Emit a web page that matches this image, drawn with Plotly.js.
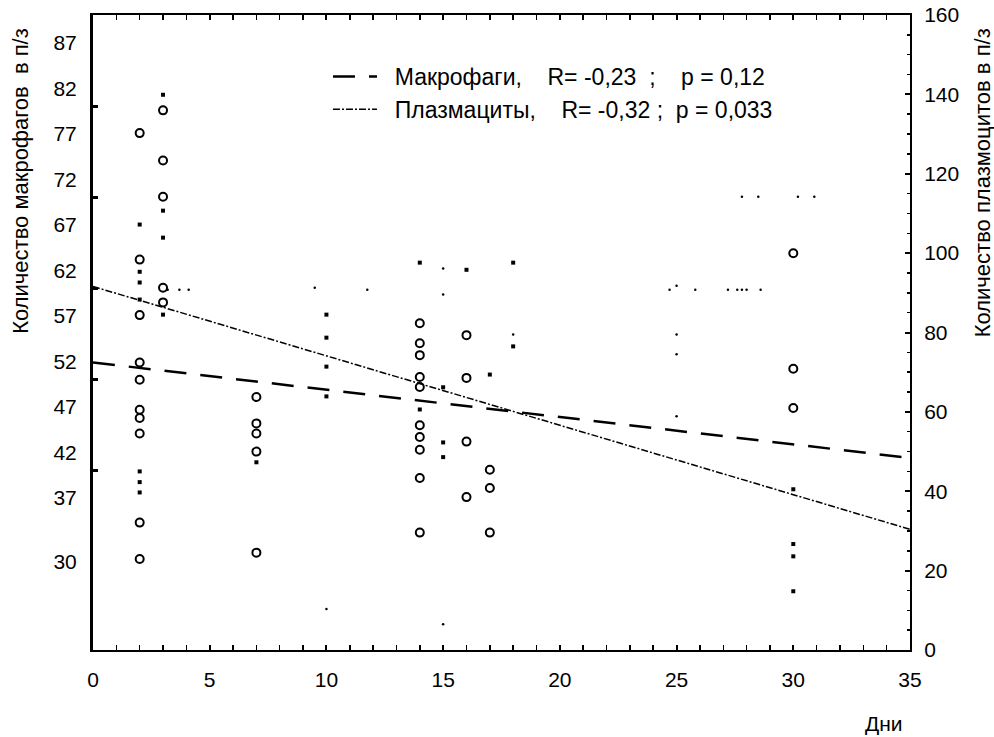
<!DOCTYPE html>
<html><head><meta charset="utf-8">
<script src="https://cdn.plot.ly/plotly-3.0.1.min.js"></script>
<style>html,body{margin:0;padding:0;background:#fff}#chart{width:994px;height:737px}</style>
</head><body><div id="chart"></div>
<script>
// Macrophages (left axis), open circles
const macroDays = [2,2,2,2,2,2,2,2,2,2, 3,3,3,3,3, 7,7,7,7,7, 14,14,14,14,14,14,14,14,14,14, 16,16,16,16, 17,17,17, 30,30,30];
const macroCounts = [77.1,63.2,57.1,51.9,50.0,46.7,45.8,44.1,34.3,30.3, 79.6,74.1,70.1,60.1,58.5, 48.1,45.2,44.1,42.1,31.0, 56.2,54.0,52.7,50.3,49.2,45.0,43.7,42.3,39.2,33.2, 54.9,50.2,43.2,37.1, 40.1,38.1,33.2, 63.9,51.2,46.9];
// Plasmocytes (right axis), filled marks
const plasmaDays = [2,2,2,2,2,2,2, 3,3,3,3, 7, 10,10,10,10, 14,14, 15,15,15, 16, 17, 18,18, 30,30,30,30];
const plasmaCounts = [107.2,95.3,92.6,88.3,45.0,42.3,39.7, 139.9,110.7,103.9,84.5, 47.3, 84.5,78.7,71.4,63.9, 97.6,60.6, 66.2,52.3,48.6, 95.8, 69.4, 97.6,76.5, 40.5,26.7,23.6,14.8];
// Plasmocytes, faint dots
const plasmaDotDays = [3.2,3.7,4.1,9.5,10,11.75,15,15,15,18,24.7,25,25,25,25,25.8,27.2,27.6,27.8,28.0,28.6,27.8,28.5,30.2,30.9];
const plasmaDotCounts = [90.8,90.8,90.8,91.3,10.3,90.8,96.1,89.6,6.5,79.5,90.8,91.8,79.5,74.5,58.9,90.8,90.8,90.8,90.8,90.8,90.8,114.2,114.2,114.2,114.2];
// Regression lines
const fitDays = [0, 35];
const macroFit = [51.9, 41.4];
const plasmaFit = [91.6, 30.4];
// Axis ticks
const xTickVals = [0,5,10,15,20,25,30,35];
const xTickText = ['0','5','10','15','20','25','30','35'];
const leftTickVals = [30,37,42,47,52,57,62,67,72,77,82,87];
const leftMarkVals = [40,50,60,70,80];
const rightTickVals = [0,20,40,60,80,100,120,140,160];

const NB = '\u00a0';
const sp = n => NB.repeat(n);
const macroLabel = sp(2)+'Макрофаги,'+sp(4)+'R= -0,23'+sp(2)+';'+sp(4)+'p = 0,12';
const plasmaLabel = sp(2)+'Плазмациты,'+sp(4)+'R= -0,32'+NB+';'+sp(2)+'p = 0,033';
const FONT = 'Liberation Sans, Arial, sans-serif';

const traces = [
  {x: macroDays, y: macroCounts, type:'scatter', mode:'markers', yaxis:'y', showlegend:false,
   marker:{symbol:'circle-open', size:8, color:'#000', line:{width:2, color:'#000'}}},
  {x: plasmaDays, y: plasmaCounts, type:'scatter', mode:'markers', yaxis:'y2', showlegend:false,
   marker:{symbol:'square', size:4, color:'#000'}},
  {x: plasmaDotDays, y: plasmaDotCounts, type:'scatter', mode:'markers', yaxis:'y2', showlegend:false,
   marker:{symbol:'circle', size:2.5, color:'#000'}},
  {x: fitDays, y: macroFit, type:'scatter', mode:'lines', yaxis:'y', name: macroLabel, legendgroup:'a',
   line:{color:'#000', width:2.5, dash:'22px,14px'}},
  {x: fitDays, y: plasmaFit, type:'scatter', mode:'lines', yaxis:'y2', name: plasmaLabel, legendgroup:'b',
   line:{color:'#000', width:1.5, dash:'7px,2px,2px,2px'}}
];

const layout = {
  width: 994, height: 737,
  margin: {l: 93, r: 84, t: 15, b: 87, pad: 0},
  paper_bgcolor: '#fff', plot_bgcolor: '#fff',
  font: {family: FONT, size: 21, color: '#000'},
  showlegend: true,
  legend: {x: 0.2876, y: 0.937, xanchor:'left', yanchor:'top', bgcolor:'rgba(0,0,0,0)',
           font:{family: FONT, size: 23, color:'#000'}, itemwidth: 44, tracegroupgap: 0},
  xaxis: {range:[0,35], showgrid:false, zeroline:false, showline:true, linewidth:2, linecolor:'#000',
          mirror:'allticks', ticks:'inside', ticklen:5, tickwidth:2, tickcolor:'#000',
          tickmode:'array', tickvals:xTickVals, ticktext:xTickText, ticklabelstandoff: 10,
          tickfont:{family: FONT, size: 21},
          minor:{dtick:1, ticks:'inside', ticklen:3, tickwidth:1.5, tickcolor:'#000', showgrid:false}},
  yaxis: {range:[20.3, 90.08], showgrid:false, zeroline:false, showline:true, linewidth:3, linecolor:'#000',
          ticks:'inside', ticklen:0.01, tickwidth:0.01, tickcolor:'rgba(0,0,0,0)',
          tickmode:'array', tickvals:leftTickVals, ticklabelstandoff: 9,
          tickfont:{family: FONT, size: 21},
          minor:{tickmode:'array', tickvals:leftMarkVals, ticks:'inside', ticklen:5, tickwidth:3, tickcolor:'#000', showgrid:false}},
  yaxis2: {range:[0,160], overlaying:'y', side:'right', showgrid:false, zeroline:false, showline:true,
           linewidth:2, linecolor:'#000', ticks:'inside', ticklen:5, tickwidth:2, tickcolor:'#000',
           tickmode:'array', tickvals:rightTickVals, ticklabelstandoff: 8,
           tickfont:{family: FONT, size: 21},
           minor:{dtick:5, ticks:'inside', ticklen:3, tickwidth:1.5, tickcolor:'#000', showgrid:false}},
  annotations: [
    {text:'Количество макрофагов'+sp(2)+'в п/з', xref:'paper', yref:'paper', x:-0.088, y:0.739,
     xanchor:'center', yanchor:'middle', textangle:-90, showarrow:false, font:{family: FONT, size:22}},
    {text:'Количество плазмоцитов в п/з', xref:'paper', yref:'paper', x:1.0882, y:0.735,
     xanchor:'center', yanchor:'middle', textangle:-90, showarrow:false, font:{family: FONT, size:22}},
    {text:'Дни', xref:'paper', yref:'paper', x:0.968, y:-0.1165, xanchor:'center', yanchor:'middle',
     showarrow:false, font:{family: FONT, size:21}}
  ]
};

Plotly.newPlot('chart', traces, layout, {displayModeBar:false, staticPlot:true});
</script>
</body></html>
